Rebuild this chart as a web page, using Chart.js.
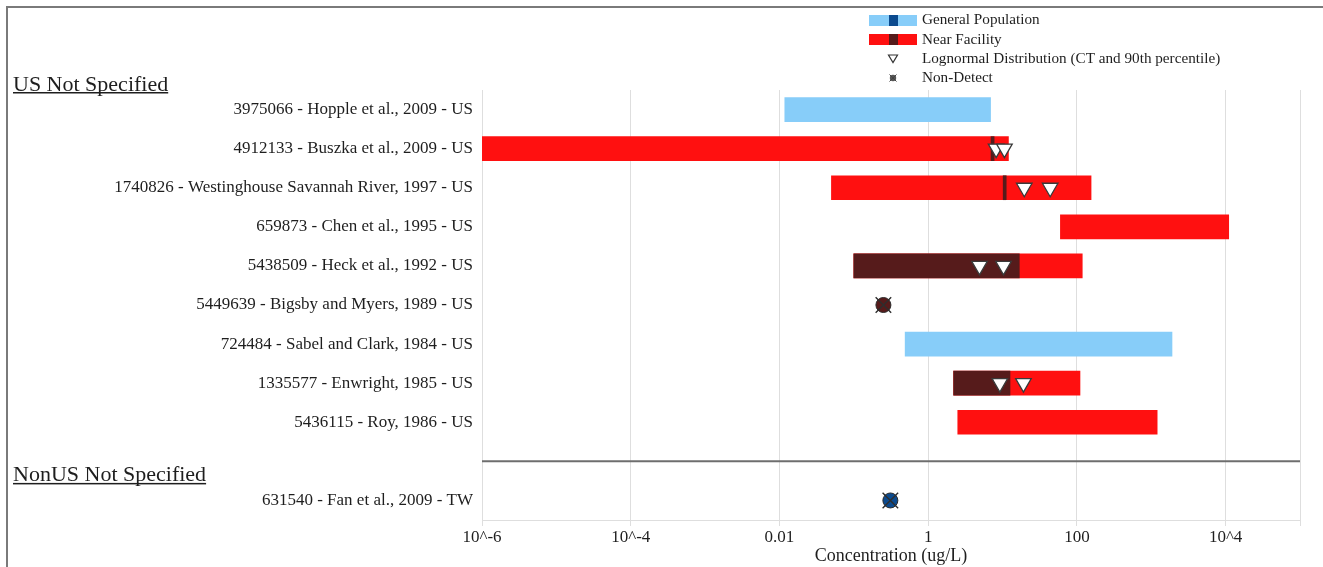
<!DOCTYPE html>
<html>
<head>
<meta charset="utf-8">
<title>Concentration (ug/L)</title>
<script src="https://cdn.jsdelivr.net/npm/chart.js@4.4.1/dist/chart.umd.min.js"></script>
<style>
  html, body { margin: 0; padding: 0; background: #ffffff; }
  #wrap { width: 1323px; height: 567px; position: relative; }
</style>
</head>
<body>
<div id="wrap"><canvas id="chart" width="1323" height="567"></canvas></div>
<script>
// ---- data ----
const studies = [
  '3975066 - Hopple et al., 2009 - US',
  '4912133 - Buszka et al., 2009 - US',
  '1740826 - Westinghouse Savannah River, 1997 - US',
  '659873 - Chen et al., 1995 - US',
  '5438509 - Heck et al., 1992 - US',
  '5449639 - Bigsby and Myers, 1989 - US',
  '724484 - Sabel and Clark, 1984 - US',
  '1335577 - Enwright, 1985 - US',
  '5436115 - Roy, 1986 - US',
  '',
  '631540 - Fan et al., 2009 - TW'
];
// population group of each study: 'general' or 'near'
const population = ['general', 'near', 'near', 'near', 'near', 'near', 'general', 'near', 'near', null, 'general'];
// full reported range (ug/L)
const rangeLow  = [0.0118, 1e-6, 0.05, 60,    0.1, null, 0.49, 2.2, 2.5,  null, null];
const rangeHigh = [6.9,    12,   155,  11000, 118, null, 1900, 110, 1200, null, null];
// central-tendency portion of each range
const centralLow  = [null, 7.0, 10.2, null, 0.1,  null, null, 2.2,  null, null, null];
const centralHigh = [null, 7.7, 11.2, null, 16.8, null, null, 12.6, null, null, null];
// lognormal distribution: central tendency and 90th percentile
const lognormalCT  = [null, 8.2,  19.6, null, 4.9,  null, null, 9.2,  null, null, null];
const lognormalP90 = [null, 10.6, 43.7, null, 10.3, null, null, 19.1, null, null, null];
// non-detect values
const nonDetect = [null, null, null, null, null, 0.25, null, null, null, null, 0.31];
// x-axis ticks
const tickValues = [1e-6, 1e-4, 1e-2, 1, 100, 1e4, 1e5];
const tickLabels = ['10^-6', '10^-4', '0.01', '1', '100', '10^4', ''];
// section headings, placed above the study with the given index
const sectionTitles = ['US Not Specified', 'NonUS Not Specified'];
const sectionStarts = [0, 10];
const separatorIndex = 9;

// ---- styling ----
const SERIF = '"Liberation Serif", "Times New Roman", serif';
const TEXT = '#1e1e1e';
const rangeColor = { general: '#87cdf9', near: '#ff1010' };
const centralColor = { general: '#0b4a8e', near: '#561b1b' };

const rangeData = studies.map((_, i) => rangeLow[i] == null ? null : [rangeLow[i], rangeHigh[i]]);
const centralData = studies.map((_, i) => centralLow[i] == null ? null : [centralLow[i], centralHigh[i]]);
const lognormalPoints = [];
studies.forEach((s, i) => {
  if (lognormalCT[i] != null) lognormalPoints.push({ x: lognormalCT[i], y: s });
  if (lognormalP90[i] != null) lognormalPoints.push({ x: lognormalP90[i], y: s });
});
const nonDetectPoints = [];
const nonDetectColors = [];
studies.forEach((s, i) => {
  if (nonDetect[i] != null) {
    nonDetectPoints.push({ x: nonDetect[i], y: s });
    nonDetectColors.push(centralColor[population[i]]);
  }
});

// headings, separator, legend and frame drawn around the plot
const decorations = {
  id: 'decorations',
  beforeDatasetsDraw(chart) {
    const { ctx, chartArea, scales } = chart;
    const y = scales.y.getPixelForValue(separatorIndex);
    ctx.save();
    ctx.strokeStyle = '#6e6e6e';
    ctx.lineWidth = 2;
    ctx.beginPath();
    ctx.moveTo(chartArea.left, y);
    ctx.lineTo(chartArea.right, y);
    ctx.stroke();
    ctx.restore();
  },
  afterDraw(chart) {
    const { ctx, scales } = chart;
    ctx.save();
    // frame
    ctx.strokeStyle = '#7a7a7a';
    ctx.lineWidth = 2;
    ctx.beginPath();
    ctx.moveTo(7, 567);
    ctx.lineTo(7, 7);
    ctx.lineTo(1323, 7);
    ctx.stroke();

    // section headings
    const step = scales.y.getPixelForValue(1) - scales.y.getPixelForValue(0);
    ctx.font = '22px ' + SERIF;
    ctx.fillStyle = TEXT;
    ctx.textAlign = 'left';
    ctx.textBaseline = 'alphabetic';
    sectionTitles.forEach((t, k) => {
      const base = scales.y.getPixelForValue(sectionStarts[k]) - step / 2 + 0.5;
      ctx.fillText(t, 13, base);
      const w = ctx.measureText(t).width;
      ctx.fillRect(13, base + 1.5, w, 1.5);
    });

    // legend
    const lx = 869, lw = 48;
    ctx.fillStyle = rangeColor.general;
    ctx.fillRect(lx, 15, lw, 11);
    ctx.fillStyle = centralColor.general;
    ctx.fillRect(lx + 20, 15, 9, 11);
    ctx.fillStyle = rangeColor.near;
    ctx.fillRect(lx, 34, lw, 11);
    ctx.fillStyle = centralColor.near;
    ctx.fillRect(lx + 20, 34, 9, 11);
    // triangle icon
    ctx.fillStyle = '#ffffff';
    ctx.strokeStyle = '#333333';
    ctx.lineWidth = 1.2;
    ctx.beginPath();
    ctx.moveTo(888.5, 55);
    ctx.lineTo(897.5, 55);
    ctx.lineTo(893, 62.5);
    ctx.closePath();
    ctx.fill();
    ctx.stroke();
    // non-detect icon
    ctx.fillStyle = '#555555';
    ctx.beginPath();
    ctx.arc(893, 78, 3.2, 0, Math.PI * 2);
    ctx.fill();
    ctx.strokeStyle = '#444444';
    ctx.lineWidth = 1;
    ctx.beginPath();
    ctx.moveTo(889.5, 74.5); ctx.lineTo(896.5, 81.5);
    ctx.moveTo(896.5, 74.5); ctx.lineTo(889.5, 81.5);
    ctx.stroke();

    ctx.font = '15.2px ' + SERIF;
    ctx.fillStyle = TEXT;
    ctx.textBaseline = 'middle';
    ctx.fillText('General Population', 922, 20);
    ctx.fillText('Near Facility', 922, 40);
    ctx.fillText('Lognormal Distribution (CT and 90th percentile)', 922, 59);
    ctx.fillText('Non-Detect', 922, 78);
    ctx.restore();
  }
};

new Chart(document.getElementById('chart'), {
  type: 'bar',
  data: {
    labels: studies,
    datasets: [
      {
        label: 'Range',
        data: rangeData,
        backgroundColor: studies.map((_, i) => rangeColor[population[i]] || 'transparent'),
        borderWidth: 0,
        barThickness: 24,
        grouped: false,
        order: 4
      },
      {
        label: 'Central tendency',
        data: centralData,
        backgroundColor: studies.map((_, i) => centralColor[population[i]] || 'transparent'),
        borderWidth: 0,
        barThickness: 24,
        grouped: false,
        order: 3
      },
      {
        type: 'scatter',
        label: 'Lognormal Distribution (CT and 90th percentile)',
        data: lognormalPoints,
        indexAxis: 'y',
        pointStyle: 'triangle',
        rotation: 180,
        pointRadius: 9,
        backgroundColor: '#ffffff',
        borderColor: '#3a3a3a',
        borderWidth: 1.3,
        order: 2
      },
      {
        type: 'scatter',
        label: 'Non-Detect',
        data: nonDetectPoints,
        indexAxis: 'y',
        pointStyle: 'circle',
        pointRadius: 7.5,
        backgroundColor: nonDetectColors,
        borderColor: '#2a2a2a',
        borderWidth: 1,
        order: 1
      },
      {
        type: 'scatter',
        label: 'Non-Detect mark',
        data: nonDetectPoints,
        indexAxis: 'y',
        pointStyle: 'crossRot',
        pointRadius: 11,
        borderColor: '#2e2e2e',
        borderWidth: 1.4,
        order: 0
      }
    ]
  },
  options: {
    indexAxis: 'y',
    responsive: false,
    animation: false,
    devicePixelRatio: 1,
    layout: { padding: { top: 90, right: 23, bottom: 0, left: 0 } },
    plugins: { legend: { display: false }, tooltip: { enabled: false } },
    scales: {
      x: {
        type: 'logarithmic',
        position: 'bottom',
        min: 1e-6,
        max: 1e5,
        afterBuildTicks(scale) {
          scale.ticks = tickValues.map(v => ({ value: v }));
        },
        afterFit(scale) { scale.height = 47; },
        ticks: {
          callback: (v, i) => tickLabels[i],
          autoSkip: false,
          maxRotation: 0,
          padding: 1,
          color: TEXT,
          font: { family: SERIF, size: 17 }
        },
        grid: { color: '#dedede', lineWidth: 1, tickLength: 6, drawTicks: true },
        border: { color: '#dedede' },
        title: {
          display: true,
          text: 'Concentration (ug/L)',
          color: TEXT,
          font: { family: SERIF, size: 18 },
          padding: { top: 0, bottom: 0 }
        }
      },
      y: {
        type: 'category',
        afterFit(scale) { scale.width = 482; },
        ticks: {
          padding: 9,
          autoSkip: false,
          color: TEXT,
          font: { family: SERIF, size: 17 }
        },
        grid: { display: false, drawTicks: false },
        border: { display: false }
      }
    }
  },
  plugins: [decorations]
});
</script>
</body>
</html>
